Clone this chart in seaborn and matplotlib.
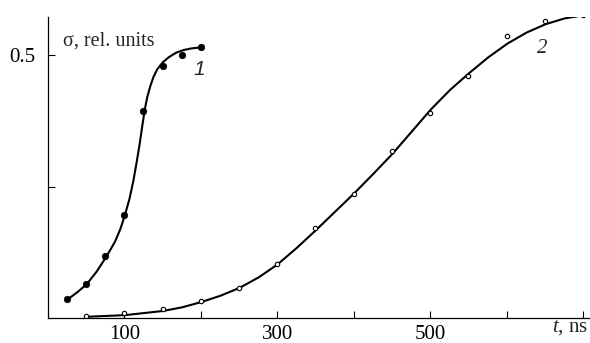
import matplotlib
matplotlib.use("Agg")
import matplotlib.pyplot as plt
import seaborn as sns

# measured points, curve 1 (filled) and curve 2 (open)
t1 = [25, 50, 75, 100, 125, 150, 175, 200]
s1 = [0.037, 0.065, 0.118, 0.197, 0.394, 0.479, 0.501, 0.515]
t2 = [50, 100, 150, 200, 250, 300, 350, 400, 450, 500, 550, 600, 650, 700]
s2 = [0.004, 0.011, 0.018, 0.033, 0.058, 0.104, 0.172, 0.236, 0.318, 0.390,
      0.461, 0.537, 0.565, 0.576]

# fitted curves
fit1_t = [27, 39, 51, 64, 77, 88, 95, 101, 107, 112, 116, 120, 124, 127, 130,
          134, 138, 143, 150, 158, 168, 178, 188, 201]
fit1_s = [0.037, 0.050, 0.065, 0.089, 0.118, 0.146, 0.170, 0.197, 0.228, 0.262,
          0.295, 0.330, 0.370, 0.398, 0.420, 0.441, 0.458, 0.473, 0.486, 0.496,
          0.505, 0.510, 0.513, 0.515]
fit2_t = [52, 101, 151, 176, 201, 226, 251, 276, 300, 325, 351, 376, 401, 426,
          451, 476, 501, 526, 551, 576, 601, 626, 651, 676, 701]
fit2_s = [0.003, 0.006, 0.014, 0.021, 0.031, 0.043, 0.058, 0.078, 0.102, 0.133,
          0.168, 0.203, 0.238, 0.275, 0.313, 0.355, 0.397, 0.434, 0.466, 0.496,
          0.522, 0.543, 0.559, 0.570, 0.576]

sns.set_theme(style="ticks")
plt.rcParams["font.family"] = ["Liberation Serif", "DejaVu Serif"]
plt.rcParams["mathtext.fontset"] = "custom"
plt.rcParams["mathtext.rm"] = "Liberation Serif"
plt.rcParams["mathtext.it"] = "Liberation Serif:italic"

fig = plt.figure(figsize=(5.9, 3.43), dpi=100)
ax = fig.add_axes([0.081, 0.072, 0.919, 0.879])

sns.lineplot(x=fit1_t, y=fit1_s, ax=ax, color="black", lw=1.5, sort=False)
sns.lineplot(x=fit2_t, y=fit2_s, ax=ax, color="black", lw=1.5, sort=False)
sns.scatterplot(x=t1, y=s1, ax=ax, color="black", s=22, edgecolor="black",
                linewidth=0.5, zorder=3)
sns.scatterplot(x=t2, y=s2, ax=ax, facecolor="white", s=10, edgecolor="black",
                linewidth=0.8, zorder=3)

ax.set_xlim(0, 709)
ax.set_ylim(0, 0.573)
ax.set_xticks([100, 200, 300, 400, 500, 600, 700])
ax.set_xticklabels(["100", "", "300", "", "500", "", ""])
ax.set_yticks([0.25, 0.5])
ax.set_yticklabels(["", "0.5"])
ax.tick_params(direction="in", length=5, width=0.8, labelsize=15, colors="black")
ax.tick_params(axis="x", pad=5)
ax.tick_params(axis="y", pad=9)
sns.despine(ax=ax)
for sp in ["left", "bottom"]:
    ax.spines[sp].set_linewidth(0.9)
    ax.spines[sp].set_color("black")
ax.set_xlabel("")
ax.set_ylabel("")

ax.text(0.028, 0.919, "σ, rel. units", transform=ax.transAxes, fontsize=14.5,
        ha="left", va="center")
fig.text(0.997, 0.045, "$t$, ns", fontsize=15, ha="right", va="center")
ax.text(198, 0.473, "1", fontsize=15, style="italic", ha="center", va="center",
        family=["Liberation Sans"])
ax.text(647, 0.513, "2", fontsize=15, style="italic", ha="center", va="center")

fig.savefig("out.png", dpi=100)
